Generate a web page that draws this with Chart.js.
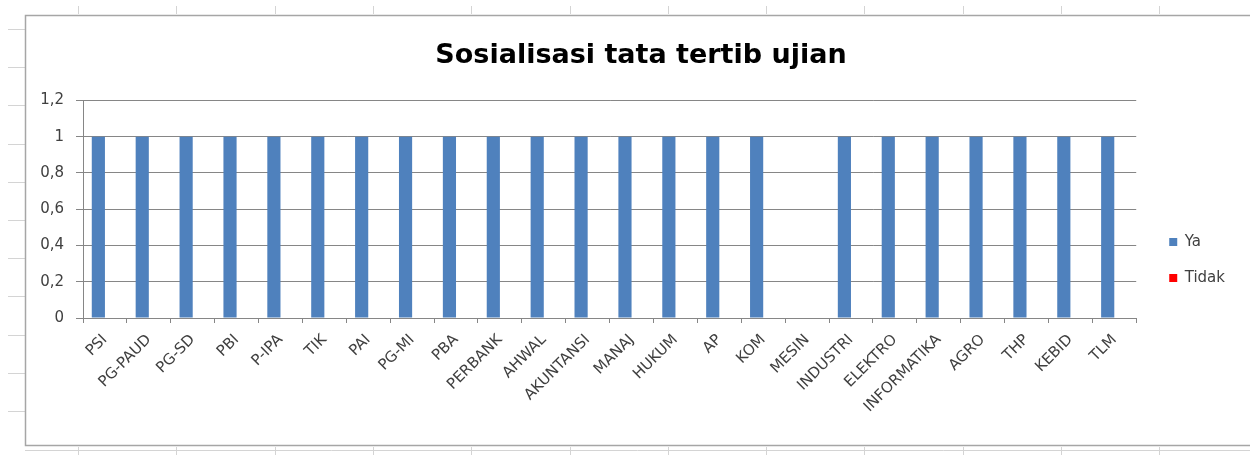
<!DOCTYPE html>
<html>
<head>
<meta charset="utf-8">
<script src="https://cdn.jsdelivr.net/npm/chart.js@4/dist/chart.umd.min.js"></script>
<style>
  html, body { margin: 0; padding: 0; background: #fff; }
  #wrap { width: 1250px; height: 455px; }
</style>
</head>
<body>
<div id="wrap"><canvas id="myBarChart" width="1250" height="455"></canvas></div>
<script>
// data
const categories = ['PSI', 'PG-PAUD', 'PG-SD', 'PBI', 'P-IPA', 'TIK', 'PAI', 'PG-MI', 'PBA', 'PERBANK',
  'AHWAL', 'AKUNTANSI', 'MANAJ', 'HUKUM', 'AP', 'KOM', 'MESIN', 'INDUSTRI', 'ELEKTRO',
  'INFORMATIKA', 'AGRO', 'THP', 'KEBID', 'TLM']
const ya = [1, 1, 1, 1, 1, 1, 1, 1, 1, 1, 1, 1, 1, 1, 1, 1, 0, 1, 1, 1, 1, 1, 1, 1]
const tidak = [0, 0, 0, 0, 0, 0, 0, 0, 0, 0, 0, 0, 0, 0, 0, 0, 0, 0, 0, 0, 0, 0, 0, 0]
const yMin = 0
const yMax = 1.2
const yStep = 0.2

const labelFont = 'DejaVu Sans'

// the excel sheet bits round the chart object: frame and cell ticks
const sheetFrame = {
  id: 'sheetFrame',
  afterLayout(chart) {
    // nudge title and legend to where excel put them
    chart.titleBlock.left += 17
    chart.titleBlock.right += 17
    chart.legend.left += 12
    chart.legend.right += 12
    chart.legend.top += 25
    chart.legend.bottom += 25
  },
  beforeDraw(chart) {
    const c = chart.ctx
    c.save()
    c.fillStyle = '#fff'
    c.fillRect(0, 0, chart.width, chart.height)
    c.strokeStyle = '#d4d4d4'
    c.lineWidth = 1
    for (let k = 0; k < 12; k++) {
      let x = Math.round(78 + 98.3 * k) + 0.5
      c.beginPath(); c.moveTo(x, 6); c.lineTo(x, 14); c.stroke()
      c.beginPath(); c.moveTo(x, 447); c.lineTo(x, 455); c.stroke()
    }
    for (let k = 0; k < 11; k++) {
      let y = Math.round(29 + 38.2 * k) + 0.5
      c.beginPath(); c.moveTo(8, y); c.lineTo(25, y); c.stroke()
    }
    c.beginPath(); c.moveTo(25, 450.5); c.lineTo(1250, 450.5); c.stroke()
    c.strokeStyle = '#a6a6a6'
    c.lineWidth = 1.5
    c.beginPath()
    c.moveTo(1251, 15.5); c.lineTo(25.5, 15.5); c.lineTo(25.5, 445.5); c.lineTo(1251, 445.5)
    c.stroke()
    c.restore()
  }
}

new Chart(document.getElementById('myBarChart'), {
  type: 'bar',
  data: {
    labels: categories,
    datasets: [{
      label: 'Ya',
      data: ya,
      backgroundColor: '#4f81bd',
      categoryPercentage: 0.6,
      barPercentage: 1
    }, {
      label: 'Tidak',
      data: tidak,
      backgroundColor: '#ff0000',
      categoryPercentage: 0.6,
      barPercentage: 1
    }]
  },
  plugins: [sheetFrame],
  options: {
    responsive: false,
    animation: false,
    layout: { padding: { left: 25, top: 15, right: 27, bottom: 0 } },
    plugins: {
      title: {
        display: true,
        text: 'Sosialisasi tata tertib ujian',
        color: '#000',
        font: { family: labelFont, size: 27, weight: 'bold' },
        padding: { top: 25, bottom: 28 }
      },
      legend: {
        position: 'right',
        labels: {
          boxWidth: 8,
          boxHeight: 8,
          padding: 21,
          color: '#404040',
          font: { family: labelFont, size: 15 }
        }
      },
      tooltip: { enabled: false }
    },
    scales: {
      x: {
        afterFit: (s) => { s.height = 137 },
        grid: { display: true, offset: true, drawOnChartArea: false, drawTicks: true, tickLength: 5, color: '#868686' },
        border: { color: '#868686' },
        ticks: {
          minRotation: 45,
          maxRotation: 45,
          autoSkip: false,
          padding: 8,
          color: '#404040',
          font: { family: labelFont, size: 15 }
        }
      },
      y: {
        min: yMin,
        max: yMax,
        afterFit: (s) => { s.width = 58 },
        grid: { color: '#868686', tickLength: 7 },
        border: { color: '#868686' },
        ticks: {
          stepSize: yStep,
          padding: 12,
          color: '#404040',
          font: { family: labelFont, size: 15 },
          callback: (v) => (Math.round(v * 10) / 10).toString().replace('.', ',')
        }
      }
    }
  }
})
</script>
</body>
</html>
